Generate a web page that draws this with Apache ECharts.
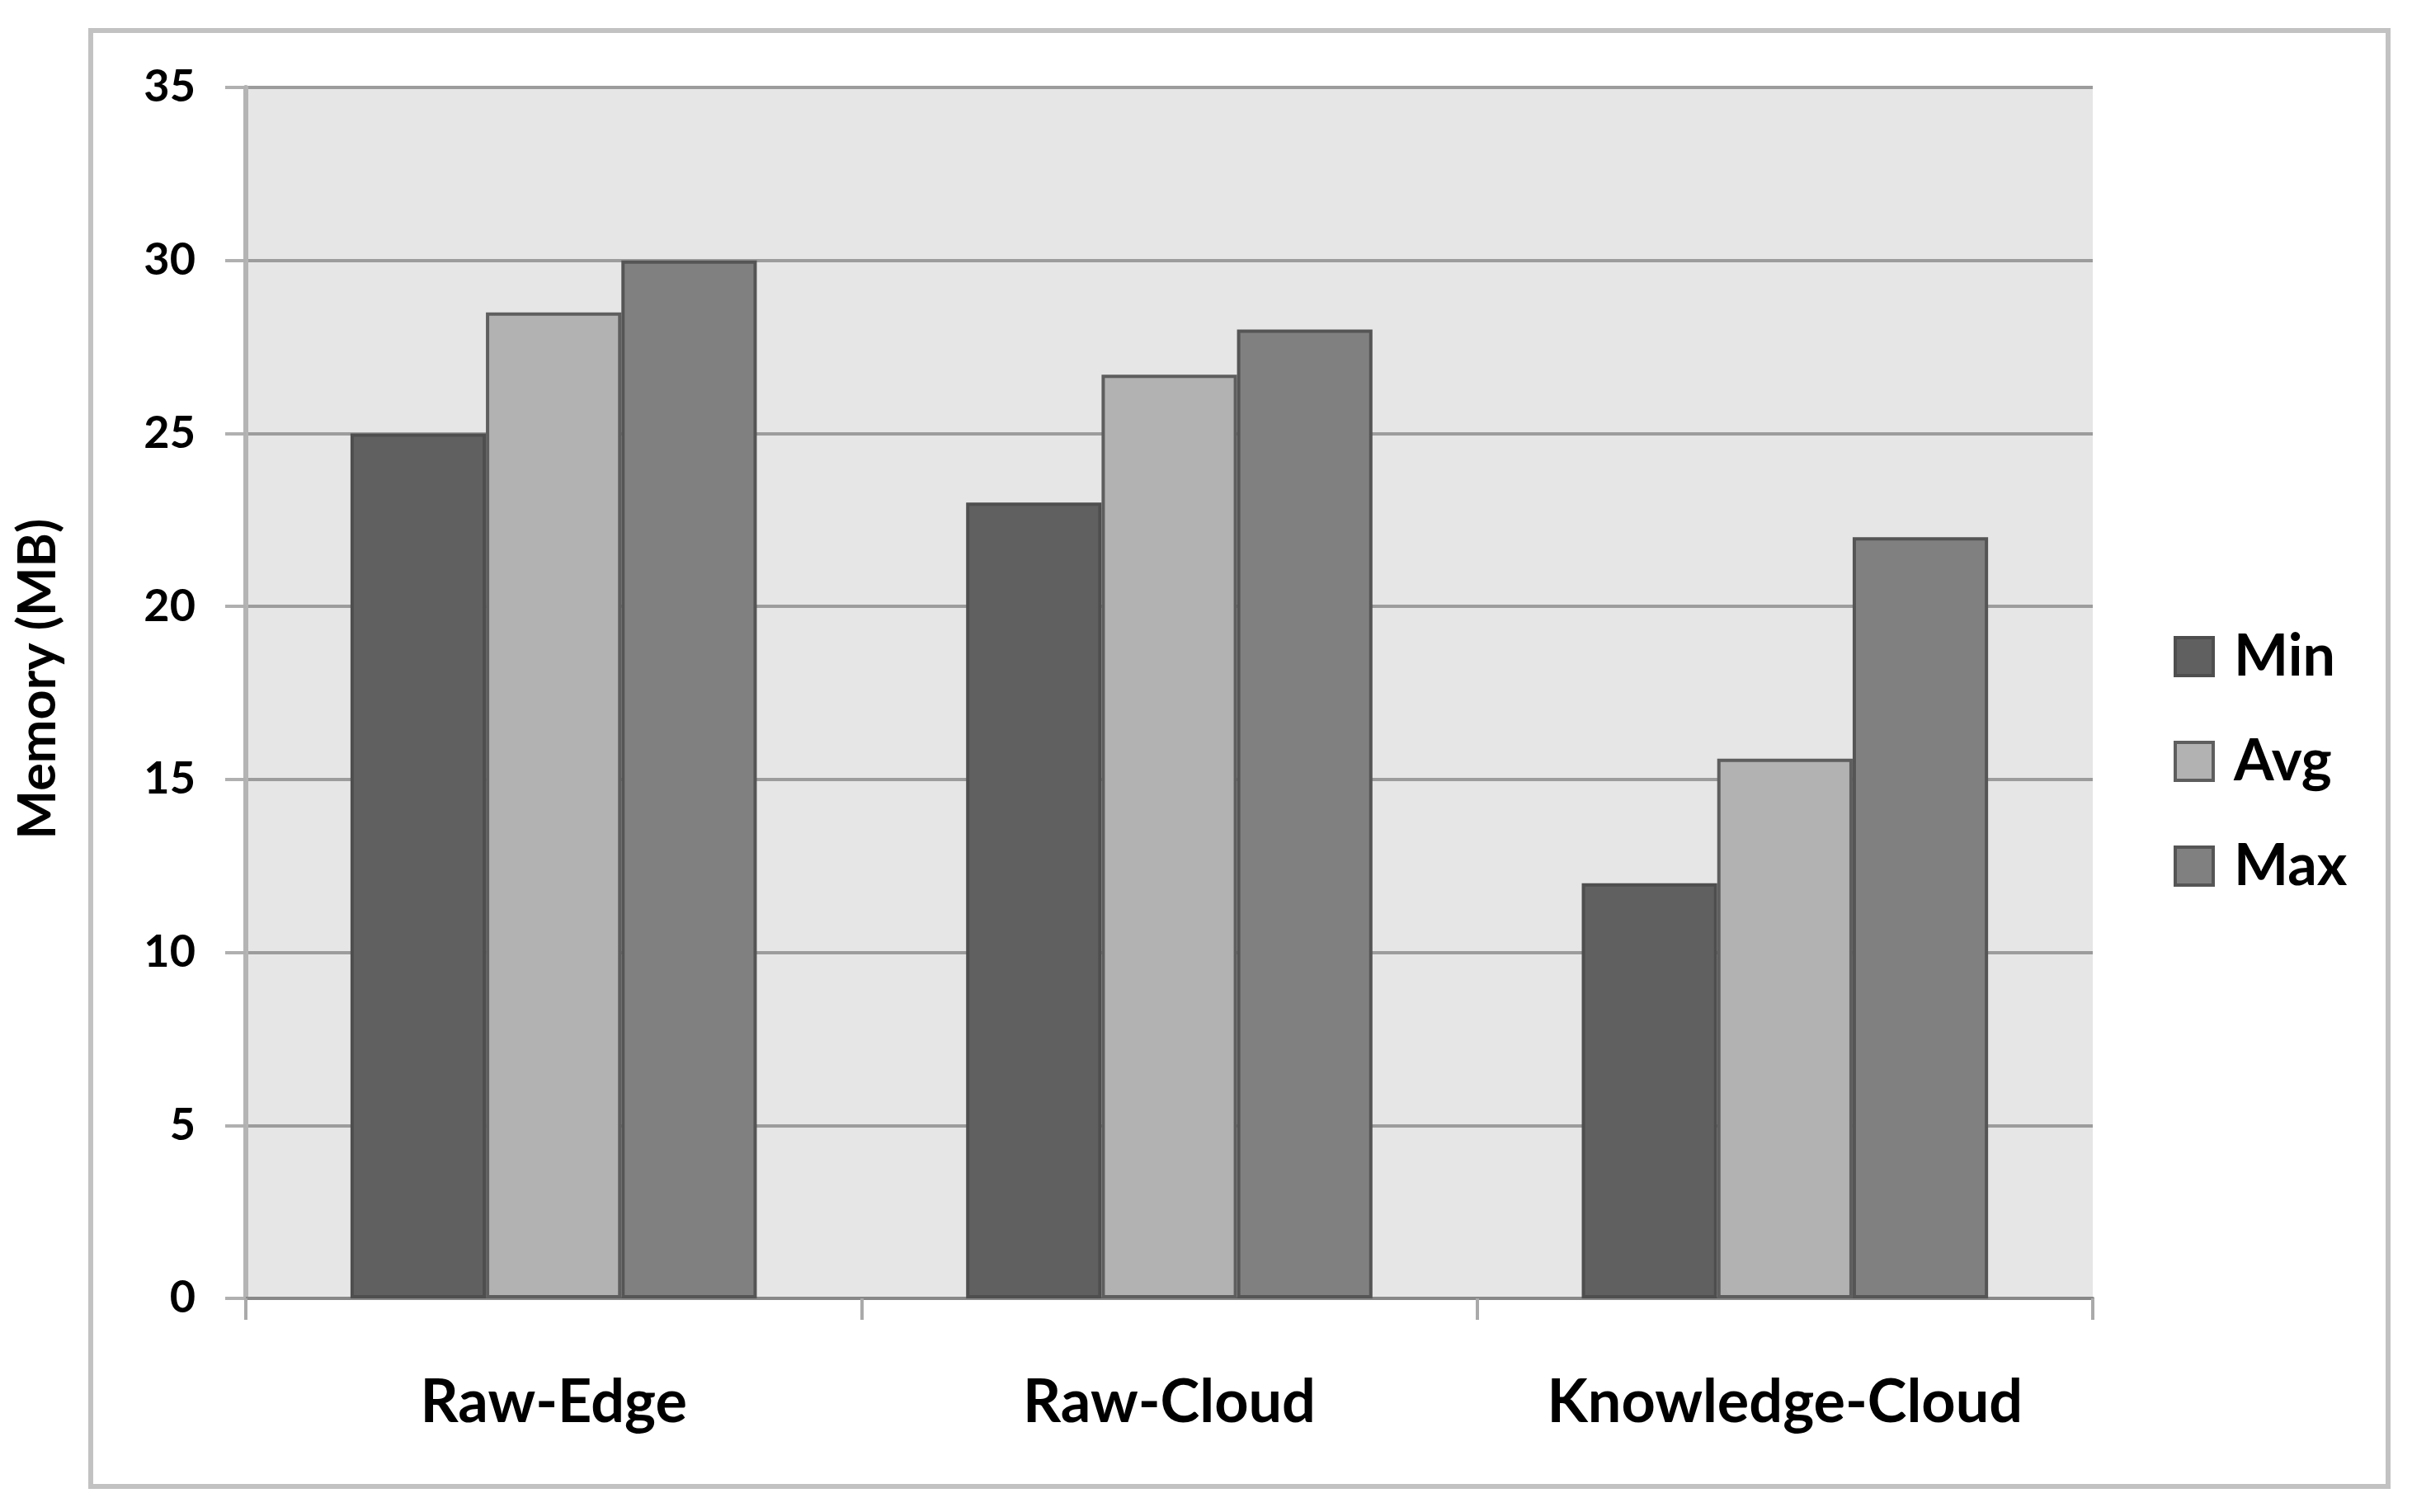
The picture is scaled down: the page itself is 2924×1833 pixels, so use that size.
<!DOCTYPE html>
<html>
<head>
<meta charset="utf-8">
<script src="https://cdn.jsdelivr.net/npm/echarts@6/dist/echarts.min.js"></script>
<style>
html,body{margin:0;padding:0;background:#fff;}
#chart{width:2924px;height:1833px;}
</style>
</head>
<body>
<div id="chart"></div>
<script>
const categories = ['Raw-Edge', 'Raw-Cloud', 'Knowledge-Cloud'];
const minValues = [25, 23, 12];
const avgValues = [28.5, 26.7, 15.6];
const maxValues = [30, 28, 22];
const seriesNames = ['Min', 'Avg', 'Max'];
const yTicks = [0, 5, 10, 15, 20, 25, 30, 35];

const FONT = 'Lato, "Open Sans", sans-serif';
const colors = ['#606060', '#b2b2b2', '#808080'];
const borders = ['#4e4e4e', '#5e5e5e', '#555555'];

const chart = echarts.init(document.getElementById('chart'), null, {renderer: 'canvas'});
const values = [minValues, avgValues, maxValues];

chart.setOption({
  backgroundColor: '#ffffff',
  animation: false,
  graphic: [{
    type: 'rect',
    shape: {x: 110, y: 37, width: 2785, height: 1765},
    style: {fill: 'none', stroke: '#c2c2c2', lineWidth: 6},
    z: -1
  }],
  grid: {
    left: 298, right: 387, top: 106, bottom: 259,
    show: true, backgroundColor: '#e6e6e6', borderWidth: 0
  },
  legend: {
    orient: 'vertical',
    left: 2630, top: 756,
    itemWidth: 46, itemHeight: 46,
    itemGap: 57,
    icon: 'rect',
    textStyle: {fontFamily: FONT, fontWeight: 'bold', fontSize: 70, color: '#000', lineHeight: 70, padding: [0, 0, 0, 20]},
    data: seriesNames.map((n, i) => ({name: n, itemStyle: {color: colors[i], borderColor: borders[i], borderWidth: 4}}))
  },
  xAxis: {
    type: 'category',
    data: categories,
    axisLine: {lineStyle: {color: '#888888', width: 4}},
    axisTick: {show: true, interval: 0, length: 26, lineStyle: {color: '#aaaaaa', width: 4}},
    axisLabel: {interval: 0, hideOverlap: false, fontFamily: FONT, fontWeight: 'bold', fontSize: 72, lineHeight: 72, color: '#000', margin: 91},
    splitLine: {show: false}
  },
  yAxis: {
    type: 'value',
    min: 0, max: 35, interval: 5,
    name: 'Memory (MB)',
    nameLocation: 'middle',
    nameRotate: 90,
    nameGap: 220,
    nameTextStyle: {fontFamily: FONT, fontWeight: 'bold', fontSize: 63, color: '#000', padding: [0, 0, 0, 34]},
    axisLine: {show: true, lineStyle: {color: '#b4b4b4', width: 6}},
    axisTick: {show: true, length: 25, lineStyle: {color: '#b0b0b0', width: 4}},
    axisLabel: {
      fontFamily: FONT, fontWeight: 'bold', fontSize: 54, color: '#000', margin: 61,
      formatter: v => (yTicks.indexOf(v) >= 0 ? String(v) : '')
    },
    splitLine: {show: true, lineStyle: {color: '#9c9c9c', width: 4}}
  },
  series: seriesNames.map((n, i) => ({
    name: n,
    type: 'bar',
    data: values[i],
    barGap: '0%',
    barCategoryGap: '34%',
    itemStyle: {color: colors[i], borderColor: borders[i], borderWidth: 4}
  }))
});
</script>
</body>
</html>
